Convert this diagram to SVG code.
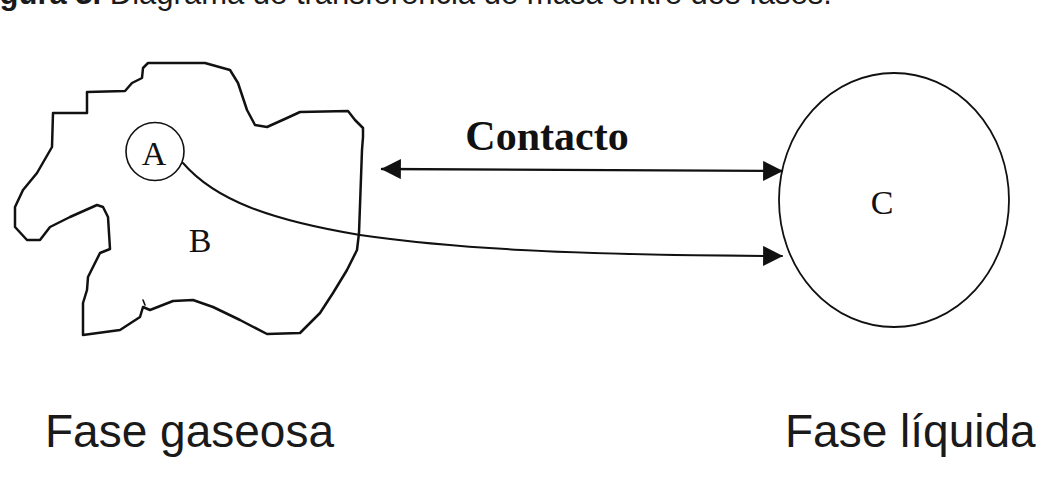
<svg xmlns="http://www.w3.org/2000/svg" width="1060" height="482" viewBox="0 0 1060 482">
  <defs>
    <style>
      .ink { fill: none; stroke: #111; stroke-linejoin: round; stroke-linecap: round; }
      .serif { font-family: "Liberation Serif", "Times New Roman", serif; fill: #111; }
      .sans { font-family: "Liberation Sans", Arial, sans-serif; fill: #1a1a1a; }
    </style>
    <marker id="ah" markerUnits="userSpaceOnUse" markerWidth="20" markerHeight="20" viewBox="0 0 18 18" refX="17" refY="9" orient="auto-start-reverse">
      <path d="M0,0 L18,9 L0,18 Z" fill="#111"/>
    </marker>
  </defs>
  <rect width="1060" height="482" fill="#fff"/>

  <text id="caption" class="sans" x="-28" y="4" font-size="31"><tspan font-weight="bold">Figura 3.</tspan> Diagrama de transferencia de masa entre dos fases.</text>

  <g id="fase-gaseosa">
    <path class="ink" stroke-width="2.5" d="M148,63 L205,63 L230,70 L238,83 L247,110 L255,125 L267,127 L287,118 L300,112 L348,111 L355,120 L363,128 L363,137 L362,150 L359,233 L357,250 L347,270 L333,293 L320,313 L300,333 L267,334 L240,320 L213,307 L193,300 L173,301 L150,310 L143,307 L140,317 L120,330 L83,335 L83,303 L87,290 L88,277 L100,253 L110,249 L108,217 L103,207 L97,205 L70,217 L50,227 L40,240 L27,240 L15,227 L15,207 L23,190 L37,173 L52,147 L53,113 L87,113 L87,92 L125,91 L132,83 L142,78 L143,68 Z"/>
    <path class="ink" stroke-width="1.6" d="M145,305 L143,300"/>
    <circle class="ink" stroke-width="1.6" cx="155" cy="151.5" r="29"/>
    <text class="serif" x="154" y="165" font-size="34" text-anchor="middle">A</text>
    <text class="serif" x="200" y="252" font-size="34" text-anchor="middle">B</text>
  </g>

  <g id="fase-liquida">
    <ellipse class="ink" stroke-width="1.8" cx="894" cy="200" rx="115" ry="127"/>
    <text class="serif" x="882" y="214" font-size="34" text-anchor="middle">C</text>
  </g>

  <g id="connectors">
    <path id="contacto-arrow" class="ink" stroke-width="2.4" d="M382,169 L782,171" marker-start="url(#ah)" marker-end="url(#ah)"/>
    <path id="transfer-arrow" class="ink" stroke-width="2" d="M183,163 C215,200 270,220 360,235 C450,248 560,255 782,256" marker-end="url(#ah)"/>
  </g>

  <text id="contacto-label" class="serif" x="547" y="150" font-size="42" font-weight="bold" text-anchor="middle">Contacto</text>

  <text id="label-gas" class="sans" x="45" y="447" font-size="46">Fase gaseosa</text>
  <text id="label-liq" class="sans" x="785" y="447" font-size="46">Fase líquida</text>
</svg>
